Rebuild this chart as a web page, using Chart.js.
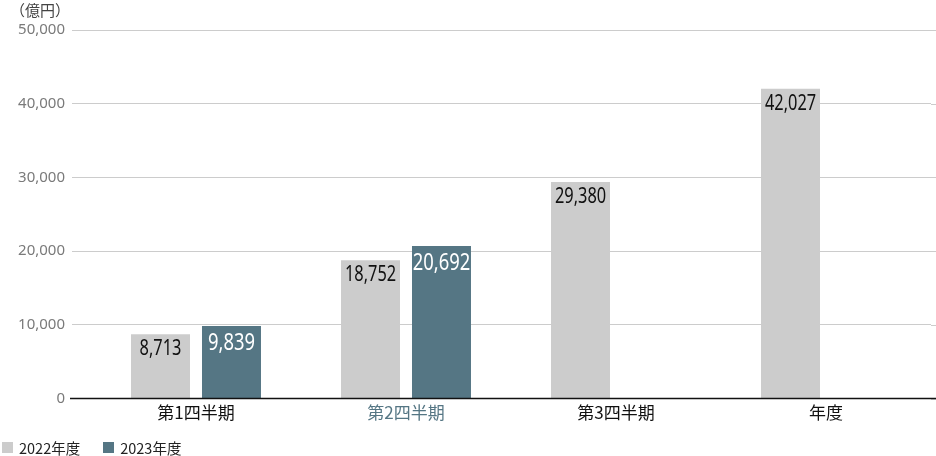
<!DOCTYPE html>
<html><head><meta charset="utf-8">
<script src="https://cdn.jsdelivr.net/npm/chart.js@4.4.1/dist/chart.umd.min.js"></script>
<style>
html,body{margin:0;padding:0;background:#fff;}
#wrap{position:relative;width:936px;height:456px;overflow:hidden;}
#unit{position:absolute;left:10px;top:-1px;font:15px "Noto Sans CJK JP";color:#444;}
#legend{position:absolute;left:2px;top:437px;font:14.5px "Noto Sans CJK JP";color:#222;display:flex;}
#legend span.it{display:flex;align-items:center;margin-right:23px;}
#legend i{display:inline-block;width:11px;height:11px;margin-right:6px;}
</style></head>
<body><div id="wrap">
<canvas id="c" width="936" height="456"></canvas>
<div id="unit">（億円）</div>
<div id="legend"></div>
</div>
<script>
const categories = ['第1四半期','第2四半期','第3四半期','年度'];
const seriesNames = ['2022年度','2023年度'];
const values2022 = [8713, 18752, 29380, 42027];
const values2023 = [9839, 20692, null, null];
const yTicks = [0, 10000, 20000, 30000, 40000, 50000];
const colors = ['#cccccc', '#557684'];
const highlightColor = '#557684';

document.getElementById('legend').innerHTML = seriesNames.map((n,i)=>
  `<span class="it"><i style="background:${colors[i]}"></i>${n}</span>`).join('');

const fmt = v => v.toLocaleString('en-US');

const labelPlugin = {
  id: 'barLabels',
  afterDatasetsDraw(chart) {
    const ctx = chart.ctx;
    chart.data.datasets.forEach((ds, di) => {
      const meta = chart.getDatasetMeta(di);
      meta.data.forEach((bar, i) => {
        const v = ds.data[i];
        if (v == null) return;
        ctx.save();
        ctx.textAlign = 'center';
        ctx.textBaseline = 'alphabetic';
        if (di === 0) {
          ctx.fillStyle = '#111';
          ctx.font = '21px "Noto Sans"';
          ctx.translate(bar.x, bar.y + 21);
          ctx.scale(0.78, 1);
        } else {
          ctx.fillStyle = '#fff';
          ctx.font = '23px "Noto Sans"';
          ctx.translate(bar.x, bar.y + 24);
          ctx.scale(0.8, 1);
        }
        ctx.fillText(fmt(v), 0, 0);
        ctx.restore();
      });
    });
  }
};

const extendPlugin = {
  id: 'extend',
  beforeDatasetsDraw(chart) {
    const ctx = chart.ctx, y = chart.scales.y, a = chart.chartArea;
    ctx.save();
    ctx.strokeStyle = '#cccccc';
    ctx.lineWidth = 1;
    yTicks.forEach(t => {
      const py = Math.round(y.getPixelForValue(t)) + 0.5;
      ctx.beginPath(); ctx.moveTo(a.right, py); ctx.lineTo(chart.width, py); ctx.stroke();
    });
    ctx.restore();
  },
  afterDatasetsDraw(chart) {
    const ctx = chart.ctx, y = chart.scales.y;
    const py = y.getPixelForValue(0);
    ctx.save();
    ctx.strokeStyle = '#111';
    ctx.lineWidth = 1.5;
    ctx.beginPath(); ctx.moveTo(70, py); ctx.lineTo(chart.width, py); ctx.stroke();
    ctx.restore();
  }
};

new Chart(document.getElementById('c'), {
  type: 'bar',
  data: {
    labels: categories,
    datasets: [
      { label: seriesNames[0], data: values2022, backgroundColor: colors[0] },
      { label: seriesNames[1], data: values2023, backgroundColor: colors[1] }
    ]
  },
  options: {
    responsive: false,
    animation: false,
    devicePixelRatio: 1,
    layout: { padding: { top: 30, right: 5, bottom: 29, left: 0 } },
    datasets: { bar: { categoryPercentage: 0.676, barPercentage: 0.831 } },
    plugins: { legend: { display: false }, tooltip: { enabled: false } },
    scales: {
      x: {
        grid: { display: false, drawTicks: false },
        border: { display: false },
        ticks: {
          padding: 4,
          font: { family: '"Noto Sans CJK JP"', size: 17 },
          color: c => c.index === 1 ? highlightColor : '#111'
        }
      },
      y: {
        min: 0, max: 50000,
        afterFit: s => { s.width = 91; },
        afterBuildTicks: s => { s.ticks = yTicks.map(v => ({ value: v })); },
        grid: { color: '#cccccc', lineWidth: 1, tickLength: 19, drawTicks: true },
        border: { display: false },
        ticks: {
          padding: 7,
          font: { family: '"Noto Sans"', size: 15 },
          color: '#7a7a7a',
          callback: v => fmt(v)
        }
      }
    }
  },
  plugins: [extendPlugin, labelPlugin]
});
</script>
</body></html>
